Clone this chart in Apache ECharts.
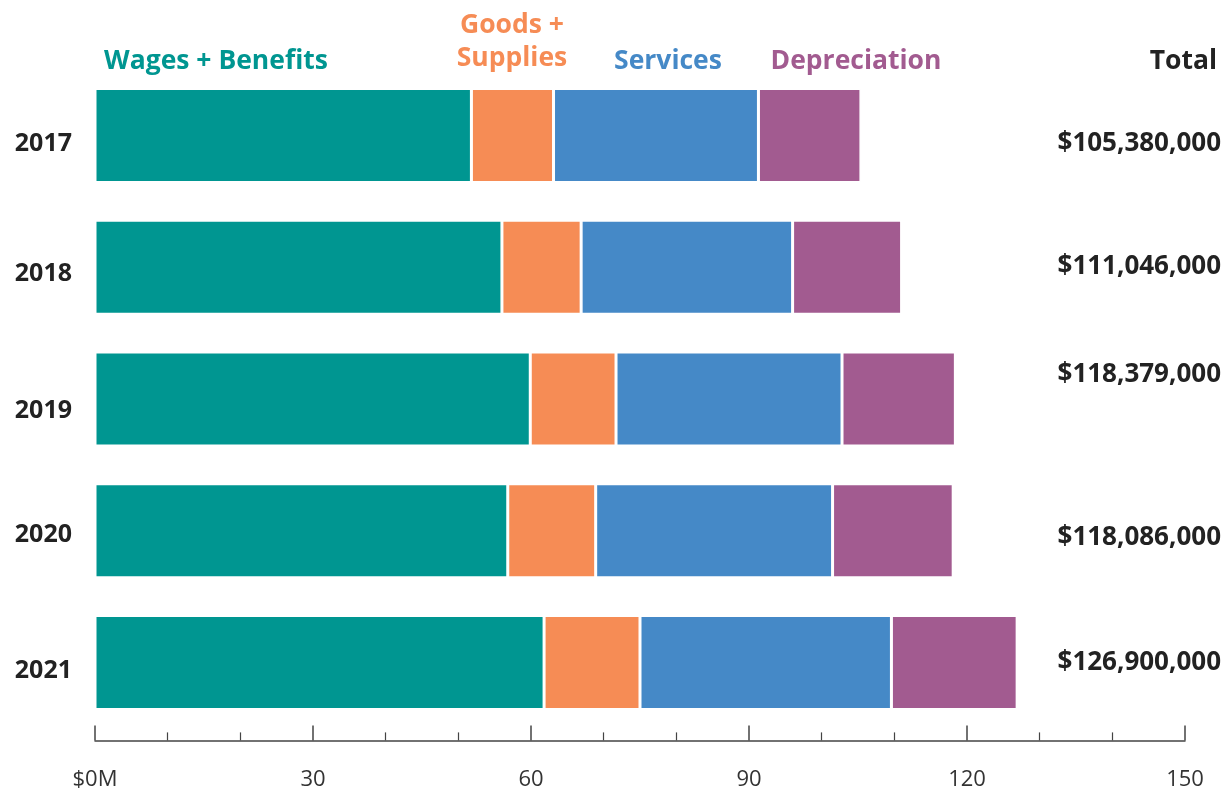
<!DOCTYPE html>
<html>
<head>
<meta charset="utf-8">
<script src="https://cdn.jsdelivr.net/npm/echarts@6/dist/echarts.min.js"></script>
<style>
html,body{margin:0;padding:0;background:#fff;}
#chart{width:1226px;height:791px;}
</style>
</head>
<body>
<div id="chart"></div>
<script>
const years = ['2017', '2018', '2019', '2020', '2021'];
const wagesBenefits = [51.8, 56.0, 59.9, 56.8, 61.8];
const goodsSupplies = [11.3, 10.9, 11.8, 12.1, 13.2];
const services = [28.2, 29.1, 31.1, 32.6, 34.6];
const depreciation = [14.1, 15.0, 15.6, 16.6, 17.3];
const totals = ['$105,380,000', '$111,046,000', '$118,379,000', '$118,086,000', '$126,900,000'];
const xTicks = [0, 30, 60, 90, 120, 150];

const FONT = '"Open Sans", "Noto Sans", sans-serif';
const COLORS = ['#009691', '#F68C55', '#4589C7', '#A25B90'];
const seriesNames = ['Wages + Benefits', 'Goods + Supplies', 'Services', 'Depreciation'];
const seriesData = [wagesBenefits, goodsSupplies, services, depreciation];

// small vertical shifts of the labels (styling only, px)
const yearShift = [8, 7, 12, 4, 8];
const totalShift = [8, -1, -24, 7, 0];

function shifted(text, s) {
  const h = Math.round(Math.abs(s) * 2);
  if (h < 1) return '{t|' + text + '}';
  return s > 0 ? '{sp' + h + '| }\n{t|' + text + '}' : '{t|' + text + '}\n{sp' + h + '| }';
}
function spacerRich(shifts, base) {
  const rich = {t: base};
  shifts.forEach(s => {
    const h = Math.round(Math.abs(s) * 2);
    if (h >= 1) rich['sp' + h] = {height: h, lineHeight: h, fontSize: 1};
  });
  return rich;
}

const chart = echarts.init(document.getElementById('chart'), null, {renderer: 'canvas'});

const option = {
  backgroundColor: '#fff',
  animation: false,
  grid: {left: 95, right: 41, top: 69.6, bottom: 62.6, containLabel: false, outerBoundsMode: 'none'},
  xAxis: {
    type: 'value',
    min: xTicks[0],
    max: xTicks[xTicks.length - 1],
    interval: xTicks[1] - xTicks[0],
    offset: 12,
    axisLine: {show: true, lineStyle: {color: '#444', width: 1.5}},
    axisTick: {show: true, inside: true, length: 15, lineStyle: {color: '#444', width: 1.5}},
    minorTick: {show: true, splitNumber: 3, length: 8, lineStyle: {color: '#444', width: 1.2}},
    splitLine: {show: false},
    minorSplitLine: {show: false},
    axisLabel: {
      margin: 28,
      fontFamily: FONT,
      fontSize: 22,
      color: '#333',
      formatter: v => v === 0 ? '$0M' : String(v)
    }
  },
  yAxis: [
    {
      type: 'category',
      inverse: true,
      data: years,
      axisLine: {show: false},
      axisTick: {show: false},
      axisLabel: {
        margin: 23,
        align: 'right',
        formatter: (v, i) => shifted(v, yearShift[i]),
        rich: spacerRich(yearShift, {fontFamily: FONT, fontWeight: 'bold', fontSize: 25, color: '#222', lineHeight: 30, align: 'right'})
      }
    },
    {
      type: 'category',
      inverse: true,
      position: 'right',
      data: totals,
      axisLine: {show: false},
      axisTick: {show: false},
      axisLabel: {
        margin: 36,
        align: 'right',
        formatter: (v, i) => shifted(v, totalShift[i]),
        rich: spacerRich(totalShift, {fontFamily: FONT, fontWeight: 'bold', fontSize: 26, color: '#222', lineHeight: 30, align: 'right'})
      }
    }
  ],
  series: seriesNames.map((name, i) => ({
    name: name,
    type: 'bar',
    stack: 'total',
    yAxisIndex: 0,
    barWidth: 94,
    data: seriesData[i],
    itemStyle: {color: COLORS[i], borderColor: '#fff', borderWidth: 1.5},
    emphasis: {disabled: true}
  })),
  graphic: [
    {type: 'text', style: {text: 'Wages + Benefits', x: 216, y: 61, align: 'center', verticalAlign: 'middle', fill: COLORS[0], font: 'bold 26.5px ' + FONT}},
    {type: 'text', style: {text: 'Goods +', x: 512, y: 25, align: 'center', verticalAlign: 'middle', fill: COLORS[1], font: 'bold 26.5px ' + FONT}},
    {type: 'text', style: {text: 'Supplies', x: 512, y: 58, align: 'center', verticalAlign: 'middle', fill: COLORS[1], font: 'bold 26.5px ' + FONT}},
    {type: 'text', style: {text: 'Services', x: 668, y: 61, align: 'center', verticalAlign: 'middle', fill: COLORS[2], font: 'bold 26.5px ' + FONT}},
    {type: 'text', style: {text: 'Depreciation', x: 856, y: 61, align: 'center', verticalAlign: 'middle', fill: COLORS[3], font: 'bold 26.5px ' + FONT}},
    {type: 'text', style: {text: 'Total', x: 1217, y: 61, align: 'right', verticalAlign: 'middle', fill: '#222', font: 'bold 26.5px ' + FONT}}
  ]
};

chart.setOption(option);
</script>
</body>
</html>
